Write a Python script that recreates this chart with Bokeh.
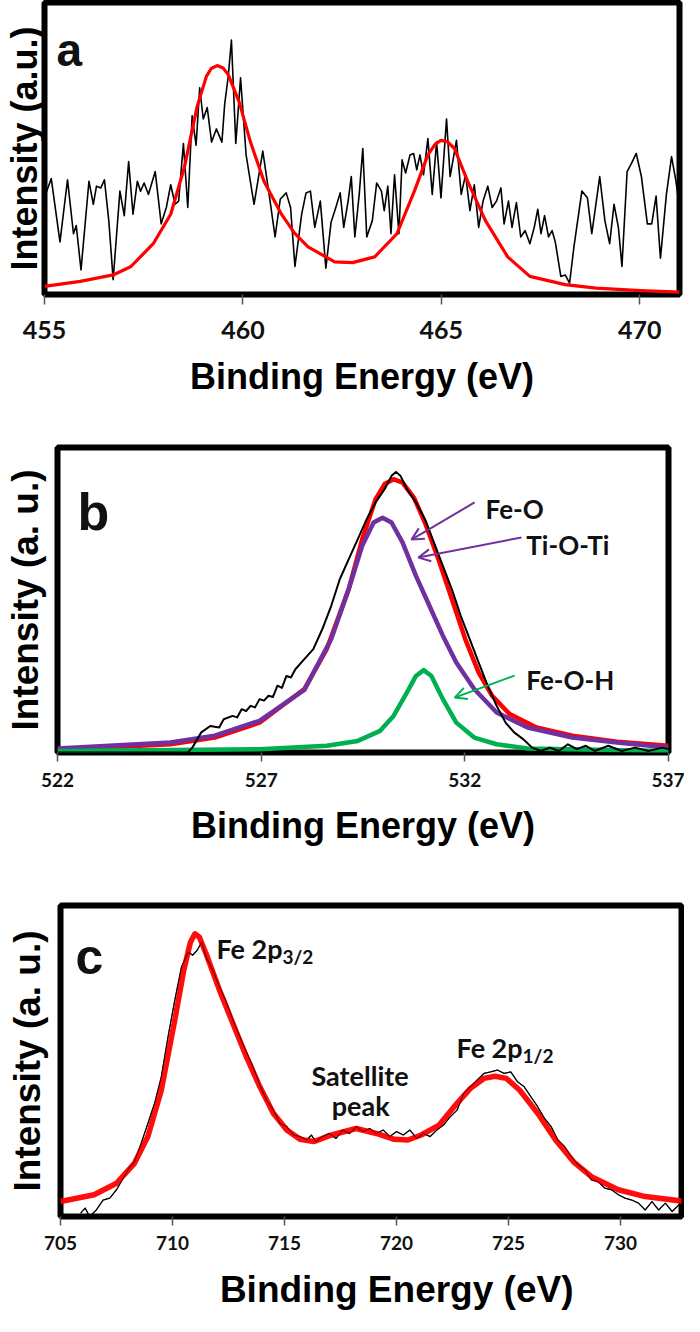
from bokeh.plotting import figure
from bokeh.models import Range1d, FixedTicker, Label, Arrow, OpenHead
from bokeh.embed import file_html
from bokeh.resources import INLINE

# ---------------- Panel a : Ti 2p ----------------
a_ticks = [455, 460, 465, 470]
a_data_x = [455.03, 455.17, 455.39, 455.58, 455.73, 455.80, 455.92, 456.12, 456.23, 456.31,
            456.42, 456.51, 456.62, 456.73, 456.90, 457.01, 457.12, 457.23, 457.34, 457.42,
            457.51, 457.62, 457.79, 457.94, 458.07, 458.18, 458.29, 458.38, 458.50, 458.61,
            458.72, 458.82, 458.91, 459.00, 459.10, 459.21, 459.33, 459.47, 459.54, 459.63,
            459.71, 459.82, 459.94, 460.08, 460.28, 460.50, 460.66, 460.81, 460.94, 461.09,
            461.20, 461.31, 461.48, 461.59, 461.70, 461.81, 461.95, 462.09, 462.22, 462.34,
            462.45, 462.54, 462.65, 462.73, 462.82, 462.93, 463.02, 463.12, 463.26, 463.37,
            463.49, 463.56, 463.65, 463.73, 463.82, 463.93, 464.01, 464.10, 464.21, 464.30,
            464.38, 464.46, 464.55, 464.66, 464.77, 464.88, 464.99, 465.13, 465.22, 465.38,
            465.50, 465.61, 465.72, 465.83, 465.94, 466.05, 466.17, 466.28, 466.39, 466.50,
            466.58, 466.69, 466.78, 466.89, 467.00, 467.11, 467.23, 467.34, 467.43, 467.51,
            467.60, 467.70, 467.79, 467.87, 468.01, 468.12, 468.23, 468.34, 468.54, 468.68,
            468.79, 468.99, 469.12, 469.24, 469.35, 469.46, 469.55, 469.68, 469.79, 469.91,
            470.04, 470.19, 470.30, 470.41, 470.52, 470.67, 470.80, 470.91, 471.00]
a_data_y = [34.3, 39.7, 18.0, 39.3, 20.8, 23.6, 8.4, 38.8, 30.9, 37.1,
            36.5, 39.3, 25.3, 5.1, 35.4, 27.0, 45.5, 27.5, 38.8, 35.4,
            38.2, 34.3, 42.1, 24.2, 29.8, 37.6, 30.9, 32.0, 51.7, 29.8,
            61.2, 51.1, 70.8, 60.1, 64.0, 52.2, 56.7, 52.2, 65.2, 74.7,
            87.1, 51.7, 74.2, 47.8, 30.9, 49.1, 34.3, 19.7, 32.6, 34.8,
            29.8, 9.6, 27.5, 34.8, 35.4, 23.0, 32.0, 9.0, 24.7, 29.8,
            34.8, 23.0, 32.0, 40.4, 19.7, 34.3, 50.0, 19.7, 25.3, 38.2,
            35.4, 28.7, 37.1, 20.8, 41.0, 20.8, 46.1, 41.6, 47.8, 48.3,
            42.7, 47.8, 41.0, 53.4, 34.3, 52.2, 33.1, 60.1, 40.4, 52.8,
            34.3, 41.0, 28.7, 37.6, 23.0, 32.0, 37.1, 29.8, 32.0, 36.5,
            24.2, 32.0, 23.0, 31.5, 19.7, 21.9, 17.4, 23.0, 29.2, 20.8,
            27.0, 19.7, 21.9, 18.0, 6.2, 6.7, 3.9, 16.3, 35.4, 33.1,
            20.8, 40.4, 25.3, 17.4, 30.9, 23.0, 9.6, 42.1, 44.9, 48.3,
            40.4, 24.2, 24.2, 33.7, 12.4, 34.3, 47.2, 38.8, 29.8]
a_fit_x = [455.00, 455.90, 456.73, 457.18, 457.74, 458.18, 458.52, 458.85, 459.08, 459.20,
           459.35, 459.50, 459.63, 459.91, 460.19, 460.53, 460.97, 461.30, 461.64, 462.31,
           462.76, 463.32, 463.88, 464.32, 464.66, 464.85, 464.99, 465.15, 465.33, 465.66,
           466.11, 466.67, 467.23, 468.12, 468.90, 470.02, 471.00]
a_fit_y = [2.8, 4.5, 6.7, 9.6, 17.4, 27.5, 43.3, 64.6, 74.7, 77.4,
           78.4, 77.6, 75.3, 65.7, 52.2, 38.8, 27.5, 21.0, 16.3, 11.2,
           10.9, 12.9, 20.8, 35.4, 47.8, 51.6, 52.8, 52.3, 50.0, 38.8,
           25.3, 12.9, 6.2, 3.4, 2.2, 1.3, 0.8]

# ---------------- Panel b : O 1s ----------------
b_ticks = [522, 527, 532, 537]
b_data_x = [522.00, 525.20, 525.31, 525.53, 525.75, 525.97, 526.08, 526.30, 526.41, 526.52,
            526.63, 526.74, 526.85, 526.96, 527.07, 527.18, 527.29, 527.40, 527.51, 527.62,
            527.73, 527.84, 528.06, 528.28, 528.50, 528.72, 528.93, 529.15, 529.37, 529.59,
            529.81, 530.03, 530.20, 530.31, 530.42, 530.58, 530.80, 531.02, 531.24, 531.46,
            531.68, 531.90, 532.12, 532.34, 532.56, 532.78, 533.00, 533.21, 533.43, 533.65,
            533.87, 534.09, 534.31, 534.53, 534.75, 534.97, 535.19, 535.52, 535.85, 536.18,
            536.51, 536.84, 537.00]
b_data_y = [0.0, 0.0, 1.6, 6.6, 8.7, 8.2, 10.9, 12.0, 11.5, 14.2,
            13.6, 15.3, 14.8, 17.5, 17.0, 18.6, 18.2, 21.9, 21.2, 25.1,
            24.6, 27.3, 30.6, 33.9, 40.4, 48.1, 56.8, 63.4, 69.9, 76.5,
            82.0, 86.3, 90.7, 92.0, 90.7, 86.3, 82.0, 76.5, 68.9, 61.2,
            53.6, 44.8, 37.2, 29.5, 21.9, 15.3, 9.8, 6.6, 4.4, 1.6,
            0.5, 1.6, 0.5, 2.7, 1.1, 2.2, 0.5, 2.2, 0.5, 1.6,
            0.5, 1.6, 1.1]
b_fit_x = [522.00, 523.40, 524.77, 525.86, 526.96, 528.06, 528.61, 529.15, 529.48, 529.81,
           530.03, 530.25, 530.47, 530.75, 531.02, 531.35, 531.68, 532.01, 532.34, 532.67,
           533.10, 533.76, 534.64, 535.74, 537.00]
b_fit_y = [1.1, 1.8, 2.7, 4.9, 9.8, 20.8, 33.9, 53.6, 69.9, 83.1,
           88.0, 89.6, 88.5, 83.6, 75.4, 63.4, 50.3, 37.2, 26.2, 18.6,
           12.6, 8.2, 5.5, 3.5, 2.2]
b_tioti_x = [522.00, 524.77, 525.86, 526.96, 528.06, 528.72, 529.15, 529.48, 529.76, 529.98,
             530.20, 530.47, 530.80, 531.13, 531.46, 531.79, 532.23, 532.78, 533.54, 534.64,
             535.74, 537.00]
b_tioti_y = [1.3, 3.3, 5.5, 10.4, 20.5, 37.2, 53.6, 67.8, 75.4, 77.0,
             75.4, 68.9, 57.9, 48.1, 38.3, 29.5, 20.8, 13.1, 8.2, 4.9,
             3.3, 1.6]
b_feoh_x = [522.00, 526.96, 528.61, 529.37, 529.92, 530.25, 530.58, 530.80, 530.99, 531.18,
            531.46, 531.79, 532.23, 532.78, 533.54, 537.00]
b_feoh_y = [0.5, 1.1, 2.2, 3.8, 7.1, 12.0, 19.7, 25.1, 27.0, 25.1,
            17.5, 9.8, 4.9, 2.7, 1.3, 0.5]

# ---------------- Panel c : Fe 2p ----------------
c_ticks = [705, 710, 715, 720, 725, 730]
c_data_x = [705.9, 706.1, 706.3, 706.6, 706.9, 707.2, 707.5, 707.8, 708.1, 708.3,
            708.6, 708.9, 709.2, 709.5, 709.8, 710.1, 710.4, 710.7, 710.9, 711.1,
            711.3, 711.5, 711.8, 712.1, 712.4, 712.7, 713.0, 713.3, 713.6, 713.9,
            714.2, 714.5, 714.8, 715.1, 715.4, 715.7, 716.0, 716.2, 716.4, 716.7,
            717.0, 717.3, 717.6, 717.9, 718.2, 718.5, 718.8, 719.1, 719.4, 719.7,
            720.0, 720.3, 720.6, 720.9, 721.2, 721.5, 721.8, 722.1, 722.4, 722.7,
            723.0, 723.3, 723.6, 723.9, 724.2, 724.5, 724.8, 725.1, 725.4, 725.7,
            726.0, 726.3, 726.6, 726.9, 727.2, 727.5, 727.8, 728.1, 728.4, 728.7,
            729.0, 729.3, 729.6, 729.9, 730.2, 730.5, 730.8, 731.1, 731.4, 731.7,
            732.0, 732.3, 732.6, 732.9]
c_data_y = [1.1, 2.7, 0.0, 2.1, 5.3, 5.9, 8.6, 12.3, 16.0, 17.6,
            23.5, 29.9, 36.4, 44.9, 57.8, 69.5, 80.2, 85.0, 84.0, 85.6,
            88.2, 83.4, 79.1, 73.8, 69.0, 63.1, 57.8, 52.9, 48.1, 42.2,
            37.4, 34.2, 29.9, 28.9, 26.2, 25.7, 24.6, 26.2, 24.1, 25.7,
            26.7, 25.1, 27.8, 26.7, 28.9, 27.3, 28.3, 26.7, 27.8, 25.7,
            27.3, 26.2, 27.8, 25.1, 26.7, 25.7, 27.8, 29.4, 32.1, 34.2,
            39.6, 41.7, 43.9, 46.0, 46.5, 47.1, 46.0, 46.5, 43.3, 41.7,
            38.5, 35.3, 31.6, 28.9, 24.6, 22.5, 19.3, 16.6, 15.0, 11.8,
            11.2, 9.1, 8.6, 7.0, 5.9, 5.3, 4.3, 2.1, 4.8, 2.1,
            4.3, 1.6, 3.7, 2.1]
c_fit_x = [705.0, 706.5, 707.5, 708.3, 708.9, 709.5, 710.1, 710.5, 710.8, 711.0,
           711.2, 711.5, 712.1, 712.7, 713.3, 713.9, 714.5, 715.1, 715.7, 716.3,
           717.1, 718.2, 719.1, 719.9, 720.5, 721.1, 721.9, 722.7, 723.3, 723.9,
           724.4, 724.9, 725.5, 726.3, 727.1, 727.9, 728.7, 729.9, 731.1, 732.9]
c_fit_y = [4.8, 7.0, 10.7, 17.1, 25.7, 40.6, 63.1, 79.1, 88.2, 90.9,
           89.8, 84.5, 72.7, 62.0, 51.3, 41.7, 33.2, 27.8, 24.8, 24.1,
           26.2, 28.3, 26.7, 24.8, 24.6, 26.2, 29.4, 36.4, 41.2, 44.4,
           45.1, 44.4, 40.6, 33.2, 24.6, 17.6, 12.8, 8.6, 6.4, 4.8]

RED = "#ff0000"
PURPLE = "#7030a0"
GREEN = "#00b050"
TITLE_FONT = "Liberation Sans"
NOTE_FONT = "Lato"
X_TITLE = "Binding Energy (eV)"


def make_panel(height, left, right, top, bottom, xr, ticks, tick_size, tick_standoff, tick_out,
               ylabel, ylabel_size, ylabel_standoff):
    p = figure(width=684, height=height, x_range=Range1d(*xr), y_range=Range1d(0, 100),
               output_backend="svg", toolbar_location=None,
               min_border_left=left, min_border_right=right,
               min_border_top=top, min_border_bottom=bottom)
    p.background_fill_color = "white"
    p.border_fill_color = "white"
    p.xgrid.visible = False
    p.ygrid.visible = False
    p.outline_line_color = "black"
    p.outline_line_width = 6
    p.outline_line_alpha = 1.0
    xa = p.xaxis[0]
    xa.ticker = FixedTicker(ticks=ticks)
    xa.axis_line_color = None
    xa.major_tick_in = 0
    xa.major_tick_out = tick_out
    xa.major_tick_line_width = 1.5
    xa.major_tick_line_color = "#555555"
    xa.minor_tick_in = 0
    xa.minor_tick_out = 0
    xa.major_label_text_font = NOTE_FONT
    xa.major_label_text_font_style = "bold"
    xa.major_label_text_font_size = tick_size
    xa.major_label_text_color = "#111111"
    xa.major_label_standoff = tick_standoff
    ya = p.yaxis[0]
    ya.ticker = FixedTicker(ticks=[])
    ya.axis_line_color = None
    ya.major_tick_in = 0
    ya.major_tick_out = 0
    ya.minor_tick_in = 0
    ya.minor_tick_out = 0
    ya.major_label_standoff = 0
    ya.major_label_text_font_size = "0px"
    ya.axis_label = ylabel
    ya.axis_label_text_font = TITLE_FONT
    ya.axis_label_text_font_style = "bold"
    ya.axis_label_text_font_size = ylabel_size
    ya.axis_label_text_color = "black"
    ya.axis_label_standoff = ylabel_standoff
    return p


def set_xlabel(p, text, standoff, size="36px"):
    xa = p.xaxis[0]
    xa.axis_label = text
    xa.axis_label_text_font = TITLE_FONT
    xa.axis_label_text_font_style = "bold"
    xa.axis_label_text_font_size = size
    xa.axis_label_text_color = "black"
    xa.axis_label_standoff = standoff


def note(p, x, y, text, size="27px", align="left", font=NOTE_FONT, x_off=0, y_off=0):
    p.add_layout(Label(x=x, y=y, text=text, text_font=font, text_font_style="bold",
                       text_font_size=size, text_align=align, text_baseline="alphabetic",
                       text_color="#111111", x_offset=x_off, y_offset=y_off))


# ---- panel a
pa = make_panel(437, 44, 5, 2, 143, (455, 471), a_ticks, "25px", 16, 10,
                "Intensity (a.u.)", "36px", 0)
set_xlabel(pa, X_TITLE, 14)
pa.line(a_data_x, a_data_y, line_color="black", line_width=1.6, line_join="round")
pa.line(a_fit_x, a_fit_y, line_color=RED, line_width=3.2, line_join="round")
note(pa, 455.3, 83.8, "a", size="46px", font=TITLE_FONT)

# ---- panel b
pb = make_panel(460, 57, 16, 10, 145, (522, 537), b_ticks, "19px", 11, 9,
                "Intensity (a. u.)", "37px", 12)
set_xlabel(pb, X_TITLE, 15)
pb.line(b_fit_x, b_fit_y, line_color=RED, line_width=4.5, line_join="round")
pb.line(b_tioti_x, b_tioti_y, line_color=PURPLE, line_width=4.5, line_join="round")
pb.line(b_feoh_x, b_feoh_y, line_color=GREEN, line_width=4.5, line_join="round")
pb.line(b_data_x, b_data_y, line_color="black", line_width=2, line_join="round")
note(pb, 522.49, 78.7, "b", size="52px", font=TITLE_FONT)
note(pb, 532.51, 79.7, "Fe-O", size="26px")
note(pb, 533.51, 67.9, "Ti-O-Ti", size="26px")
note(pb, 533.51, 23.9, "Fe-O-H", size="26px")
pb.add_layout(Arrow(end=OpenHead(size=12, line_color=PURPLE, line_width=2),
                    x_start=532.24, y_start=82.0, x_end=530.69, y_end=69.8,
                    line_color=PURPLE, line_width=2))
pb.add_layout(Arrow(end=OpenHead(size=12, line_color=PURPLE, line_width=2),
                    x_start=533.39, y_start=70.5, x_end=530.86, y_end=63.9,
                    line_color=PURPLE, line_width=2))
pb.add_layout(Arrow(end=OpenHead(size=12, line_color=GREEN, line_width=2),
                    x_start=533.22, y_start=25.2, x_end=531.75, y_end=18.0,
                    line_color=GREEN, line_width=2))

# ---- panel c (title sits right of the frame centre in the original)
pc = make_panel(419, 60, 3, 8, 100, (705, 732.72), c_ticks, "19px", 10, 9,
                "Intensity (a. u.)", "37px", 13)
set_xlabel(pc, "\u00a0" * 5 + X_TITLE, 16, size="37px")
pc.line(c_data_x, c_data_y, line_color="black", line_width=1.3, line_join="round")
pc.line(c_fit_x, c_fit_y, line_color=RED, line_width=5.5, line_join="round", line_alpha=0.95)
pc.line(c_data_x, c_data_y, line_color="black", line_width=1.0, line_join="round", line_alpha=0.6)
note(pc, 705.67, 83.3, "c", size="50px", font=TITLE_FONT)
note(pc, 711.96, 86.2, "Fe 2p")
note(pc, 711.96, 86.2, "3/2", size="19px", x_off=66, y_off=-8)
note(pc, 722.68, 54.3, "Fe 2p")
note(pc, 722.68, 54.3, "1/2", size="19px", x_off=66, y_off=-8)
note(pc, 718.37, 45.3, "Satellite", align="center")
note(pc, 718.40, 35.7, "peak", align="center")

open("out.html", "w").write(file_html([pa, pb, pc], INLINE))
